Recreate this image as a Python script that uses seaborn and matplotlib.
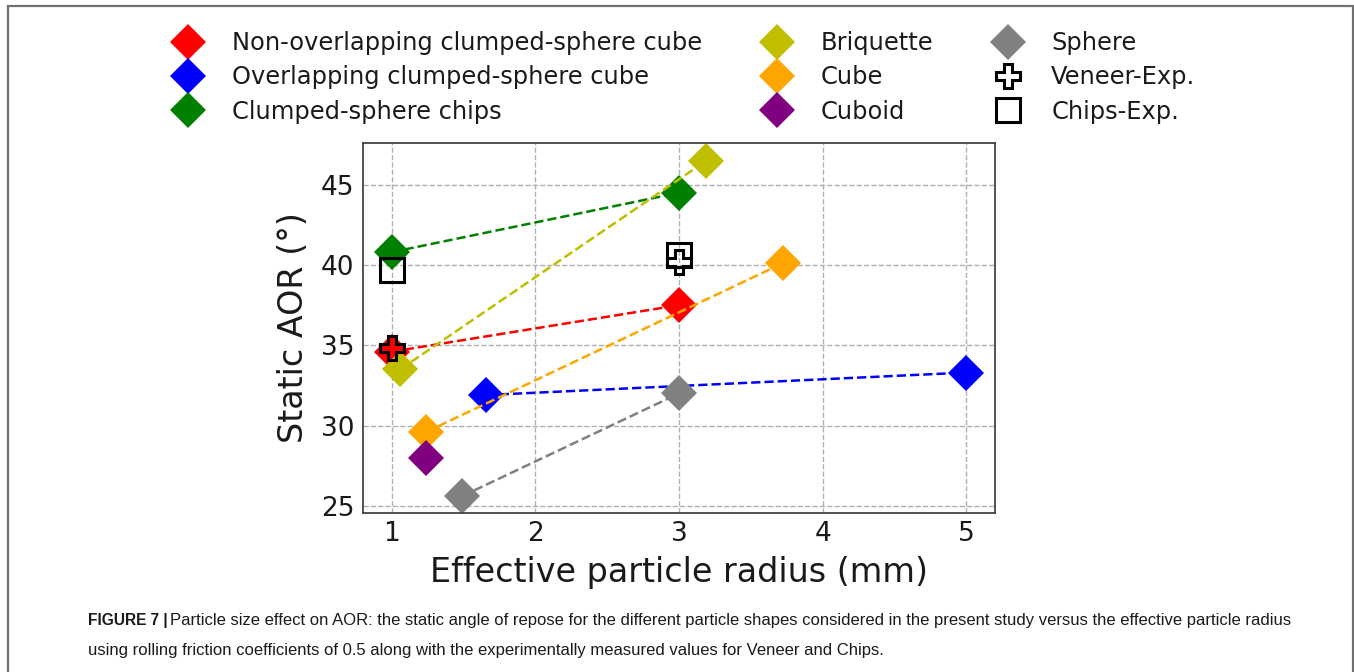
import matplotlib
matplotlib.use("Agg")
import matplotlib.pyplot as plt
import seaborn as sns
from matplotlib.patches import Rectangle

# Static angle of repose (deg) vs effective particle radius (mm)
noc_r = [1.0, 3.0]
noc_aor = [34.6, 37.5]
oc_r = [1.66, 5.0]
oc_aor = [31.9, 33.3]
chips_r = [1.0, 3.0]
chips_aor = [40.8, 44.5]
briq_r = [1.06, 3.19]
briq_aor = [33.5, 46.5]
cube_r = [1.24, 3.72]
cube_aor = [29.6, 40.1]
cuboid_r = [1.24]
cuboid_aor = [28.0]
sphere_r = [1.49, 3.0]
sphere_aor = [25.6, 32.0]
veneer_exp_r = [1.0, 3.0]
veneer_exp_aor = [34.8, 40.2]
chips_exp_r = [1.0, 3.0]
chips_exp_aor = [39.7, 40.6]

sim_series = [
    ("Non-overlapping clumped-sphere cube", noc_r, noc_aor, "r"),
    ("Overlapping clumped-sphere cube", oc_r, oc_aor, "b"),
    ("Clumped-sphere chips", chips_r, chips_aor, "g"),
    ("Briquette", briq_r, briq_aor, "y"),
    ("Cube", cube_r, cube_aor, "orange"),
    ("Cuboid", cuboid_r, cuboid_aor, "purple"),
    ("Sphere", sphere_r, sphere_aor, "gray"),
]
exp_series = [
    ("Veneer-Exp.", veneer_exp_r, veneer_exp_aor, "P"),
    ("Chips-Exp.", chips_exp_r, chips_exp_aor, "s"),
]

sns.set_style("white")
plt.rcParams["font.family"] = ["DejaVu Sans"]

fig = plt.figure(figsize=(13.54, 6.72), dpi=100)
ax = fig.add_axes([0.268, 0.2366, 0.467, 0.5506])

MS = 18
for name, xs, ys, col in sim_series:
    if len(xs) > 1:
        sns.lineplot(x=xs, y=ys, ax=ax, color=col, linestyle="--", lw=1.8,
                     legend=False, sort=False)
    sns.lineplot(x=xs, y=ys, ax=ax, color=col, marker="D", linestyle="none",
                 markersize=MS, markeredgewidth=0, label=name, legend=False,
                 sort=False)

for name, xs, ys, mk in exp_series:
    sns.lineplot(x=xs, y=ys, ax=ax, color="k", marker=mk, linestyle="none",
                 markersize=MS * 0.95, markerfacecolor="none",
                 markeredgecolor="k", markeredgewidth=2.2, label=name,
                 legend=False, sort=False)

ax.set_xlim(0.8, 5.2)
ax.set_ylim(24.55, 47.6)
ax.set_xticks([1, 2, 3, 4, 5])
ax.set_yticks([25, 30, 35, 40, 45])
ax.grid(True, linestyle="--", color="#b0b0b0", lw=1.0)
ax.set_axisbelow(True)
for sp in ax.spines.values():
    sp.set_color("#444444")
    sp.set_linewidth(1.3)
ax.tick_params(direction="in", length=5, width=1, colors="#444444",
               labelcolor="#1a1a1a", labelsize=19, pad=6)
ax.set_xlabel("Effective particle radius (mm)", fontsize=24, color="#1a1a1a",
              labelpad=6)
ax.set_ylabel("Static AOR (°)", fontsize=24, color="#1a1a1a", labelpad=8)

handles, labels = ax.get_legend_handles_labels()
fig.legend(handles, labels, ncol=3, loc="upper center",
           bbox_to_anchor=(0.502, 0.979), frameon=False, fontsize=17.4,
           labelspacing=0.43, columnspacing=2.1, handlelength=2.0,
           handletextpad=0.8, borderpad=0.2, labelcolor="#1a1a1a")

# Outer figure frame
fig.patches.append(Rectangle((8 / 1354, -0.05), (1353 - 8) / 1354,
                             1 - 6 / 672 + 0.05, transform=fig.transFigure,
                             fill=False, edgecolor="#707070", lw=1.6))

cap_font = ["Liberation Sans", "DejaVu Sans"]
head = fig.text(88 / 1354, 1 - 621 / 672, "FIGURE 7 |", fontsize=11.2,
                fontweight="bold", family=cap_font, va="center", ha="left",
                color="#1a1a1a")
ax.annotate("Particle size effect on AOR: the static angle of repose for the different "
            "particle shapes considered in the present study versus the effective particle radius",
            xy=(1, 0.5), xycoords=head, xytext=(2, 0), textcoords="offset points",
            fontsize=12.0, family=cap_font, va="center", ha="left",
            color="#1a1a1a", annotation_clip=False)
fig.text(88 / 1354, 1 - 651 / 672,
         "using rolling friction coefficients of 0.5 along with the experimentally "
         "measured values for Veneer and Chips.",
         fontsize=12.0, family=cap_font, va="center", ha="left", color="#1a1a1a")

fig.savefig("out.png", dpi=100)
